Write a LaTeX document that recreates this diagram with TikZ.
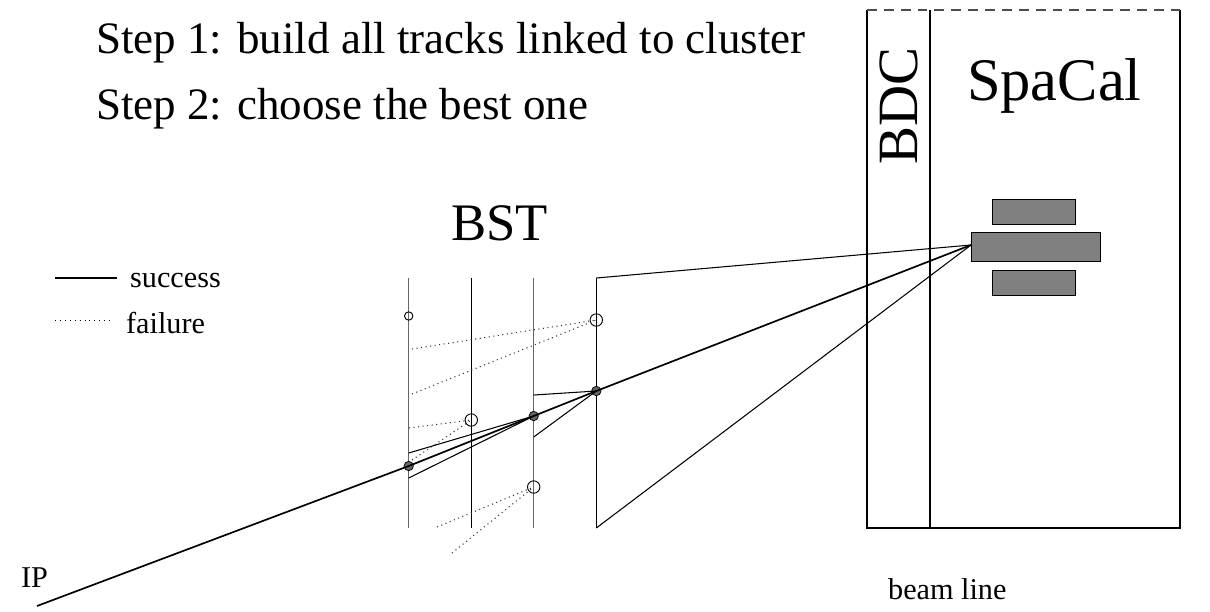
\documentclass[tikz,border=0pt]{standalone}
\usepackage{fontspec}
\setmainfont{Liberation Serif}
\usetikzlibrary{positioning, calc}

\begin{document}
\begin{tikzpicture}[
    x=0.5mm, y=-0.5mm,
    plane/.style={line width=2pt, black!60},
    frame/.style={line width=1.6pt, black},
    trk/.style={line width=1.5pt, black},
    best/.style={line width=2.4pt, black},
    miss/.style={line width=1.5pt, black!80, dash pattern=on 1.5pt off 5pt},
    hit/.style={circle, draw, line width=1pt, fill=black!60, inner sep=0pt, minimum size=4.7mm},
    open/.style={circle, draw, line width=1.3pt, inner sep=0pt, minimum size=6.2mm},
    block/.style={draw, line width=1pt, fill=black!50, inner sep=0pt},
    big/.style={font=\fontsize{64}{64}\selectfont, inner sep=0pt},
    huge/.style={font=\fontsize{75}{75}\selectfont, inner sep=0pt},
    small/.style={font=\fontsize{43}{43}\selectfont, inner sep=0pt}
]
\useasboundingbox (0,0) rectangle (1210,611);

% text
\node[big, anchor=base west] (step1) at (96,53) {Step 1: build all tracks linked to cluster};
\node[big, anchor=base west] (step2) at (96,119) {Step 2: choose the best one};
\node[huge, anchor=base] (bst) at (499.5,240) {BST};
\node[huge, anchor=base west, font=\fontsize{86}{86}\selectfont] (spacal) at (967,100) {SpaCal};
\node[huge, anchor=base, rotate=90, font=\fontsize{81}{81}\selectfont] (bdc) at (917,106) {BDC};
\node[small, anchor=base west] (succ) at (130,287) {success};
\node[small, anchor=base west] (fail) at (126,333) {failure};
\node[small, anchor=base west] (ip) at (21,587) {IP};
\node[small, anchor=base west] (beam) at (888,599) {beam line};

% legend
\coordinate (l1a) at (55,278);
\coordinate (l1b) at (117,278);
\coordinate (l2a) at (55,320);
\coordinate (l2b) at (113,320);
\draw[trk] (l1a) -- (l1b);
\draw[line width=1pt, dash pattern=on 1pt off 6pt] (l2a) -- (l2b);

% detector
\coordinate (dtl) at (867,10);
\coordinate (dtm) at (930,10);
\coordinate (dtr) at (1180,10);
\coordinate (dbl) at (867,528);
\coordinate (dbm) at (930,528);
\coordinate (dbr) at (1180,528);
\draw[frame] (dtl) -- (dbl) -- (dbr) -- (dtr);
\draw[frame] (dtm) -- (dbm);
\draw[line width=1.5pt, black!70, dash pattern=on 14pt off 10pt] (dtl) -- (dtr);

% cluster
\node[block, minimum width=41.8mm, minimum height=12.5mm] (upper) at (1033.8,211.8) {};
\node[block, minimum width=64.8mm, minimum height=14.7mm] (middle) at (1035.8,247) {};
\node[block, minimum width=41.8mm, minimum height=12.6mm] (lower) at (1033.8,282.6) {};
\coordinate (seed) at (971,245);

% BST planes
\coordinate (p1t) at (408.7,278);
\coordinate (p1b) at (408.7,528);
\coordinate (p2t) at (471.3,278);
\coordinate (p2b) at (471.3,528);
\coordinate (p3t) at (533.7,278);
\coordinate (p3b) at (533.7,528);
\coordinate (p4t) at (596.3,278);
\coordinate (p4b) at (596.3,528);
\foreach \i in {1,3} \draw[plane] (p\i t) -- (p\i b);
\foreach \i in {2,4} \draw[frame] (p\i t) -- (p\i b);

% hits
\node[hit] (h1) at (408.7,466) {};
\node[hit] (h2) at (533.7,416) {};
\node[hit] (h3) at (596.3,391) {};
\node[open, minimum size=4.2mm] (o1) at (408.7,316) {};
\node[open] (o2) at (471.3,420) {};
\node[open] (o3) at (596.3,320) {};
\node[open] (o4) at (533.7,487) {};

% tracks
\coordinate (ipt) at (37,606);
\coordinate (a1) at (533.7,395);
\coordinate (a2) at (533.7,437);
\coordinate (a3) at (408.7,453);
\coordinate (a4) at (408.7,478);
\draw[best] (ipt) -- (h1.center) -- (h2.center) -- (h3.center) -- (seed);
\draw[trk] (p4t) -- (seed);
\draw[trk] (p4b) -- (seed);
\draw[trk] (a1) -- (h3.center);
\draw[trk] (a2) -- (h3.center);
\draw[trk] (a3) -- (h2.center);
\draw[trk] (a4) -- (h2.center);

% failed tracks
\coordinate (m1) at (412,349);
\coordinate (m2) at (412,394);
\coordinate (m3) at (409,428);
\coordinate (m4) at (412,460);
\coordinate (m5) at (437,527);
\coordinate (m6) at (452,553);
\draw[miss] (m1) -- (o3.center);
\draw[miss] (m2) -- (o3.center);
\draw[miss] (m3) -- (o2.center);
\draw[miss] (m4) -- (o2.center);
\draw[miss] (m5) -- (o4.center);
\draw[miss] (m6) -- (o4.center);

\end{tikzpicture}
\end{document}
